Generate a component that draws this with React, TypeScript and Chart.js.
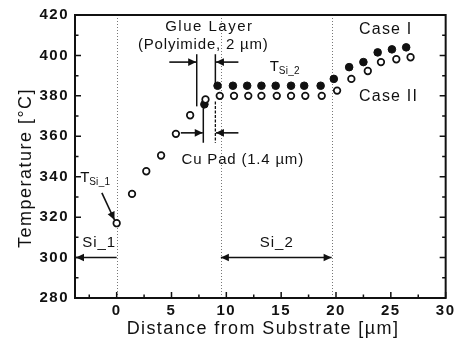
import React, { useEffect, useRef } from "react";
import { Chart, registerables } from "chart.js";

Chart.register(...registerables);

// ---- data ----
const caseIIX = [0, 1.4, 2.7, 4.05, 5.4, 6.7, 8.1, 9.4, 10.7, 12.0, 13.2, 14.6, 15.9, 17.2, 18.7, 20.1, 21.4, 22.9, 24.1, 25.5, 26.8];
const caseIIY = [317, 331.5, 342.7, 350.5, 361.2, 370.4, 378.2, 380, 380, 380, 380, 380, 380, 380, 380, 382.6, 388.4, 392.3, 396.7, 398.1, 399.1];
const caseIX = [8.0, 9.2, 10.6, 11.9, 13.2, 14.5, 15.9, 17.1, 18.6, 19.8, 21.2, 22.5, 23.8, 25.1, 26.4];
const caseIY = [375.8, 385, 385, 385, 385, 385, 385, 385, 385, 388.4, 394.2, 396.7, 401.5, 403, 404];

const xTickValues = [0, 5, 10, 15, 20, 25, 30];
const yTickValues = [280, 300, 320, 340, 360, 380, 400, 420];
const xMinorValues = [-2.5, 2.5, 7.5, 12.5, 17.5, 22.5, 27.5];
const yMinorValues = [290, 310, 330, 350, 370, 390, 410];
const regionBoundaries = [0, 9.5, 19.6];

const X_MIN = -3.8;
const X_MAX = 30;
const Y_MIN = 280;
const Y_MAX = 420;

const FONT = '"Liberation Sans", Arial, Helvetica, sans-serif';

function drawText(
  ctx: CanvasRenderingContext2D,
  str: string,
  x: number,
  y: number,
  size: number,
  align: CanvasTextAlign = "left",
  spacing = 1,
  weight = "normal"
) {
  ctx.save();
  ctx.font = `${weight} ${size}px ${FONT}`;
  (ctx as any).letterSpacing = `${spacing}px`;
  ctx.fillStyle = "#111";
  ctx.textAlign = align;
  ctx.textBaseline = "middle";
  ctx.fillText(str, x, y);
  ctx.restore();
}

function head(ctx: CanvasRenderingContext2D, fx: number, fy: number, tx: number, ty: number) {
  const a = Math.atan2(ty - fy, tx - fx);
  const L = 8;
  const W = 3.8;
  ctx.beginPath();
  ctx.moveTo(tx, ty);
  ctx.lineTo(tx - L * Math.cos(a) + W * Math.sin(a), ty - L * Math.sin(a) - W * Math.cos(a));
  ctx.lineTo(tx - L * Math.cos(a) - W * Math.sin(a), ty - L * Math.sin(a) + W * Math.cos(a));
  ctx.closePath();
  ctx.fill();
}

function arrow(
  ctx: CanvasRenderingContext2D,
  x1: number,
  y1: number,
  x2: number,
  y2: number,
  endHead = true,
  startHead = false
) {
  ctx.save();
  ctx.strokeStyle = "#111";
  ctx.fillStyle = "#111";
  ctx.lineWidth = 1.6;
  ctx.beginPath();
  ctx.moveTo(x1, y1);
  ctx.lineTo(x2, y2);
  ctx.stroke();
  if (endHead) head(ctx, x1, y1, x2, y2);
  if (startHead) head(ctx, x2, y2, x1, y1);
  ctx.restore();
}

function line(
  ctx: CanvasRenderingContext2D,
  x1: number,
  y1: number,
  x2: number,
  y2: number,
  width = 1.5,
  dash: number[] = []
) {
  ctx.save();
  ctx.strokeStyle = "#111";
  ctx.lineWidth = width;
  ctx.setLineDash(dash);
  ctx.beginPath();
  ctx.moveTo(x1, y1);
  ctx.lineTo(x2, y2);
  ctx.stroke();
  ctx.restore();
}

const decorPlugin = {
  id: "decor",
  beforeDraw(chart: any) {
    (chart.ctx as any).letterSpacing = "1.5px";
  },
  beforeDatasetsDraw(chart: any) {
    const { ctx, chartArea, scales } = chart;
    const xs = scales.x;
    ctx.save();
    ctx.strokeStyle = "#777";
    ctx.lineWidth = 1;
    ctx.setLineDash([1, 2]);
    regionBoundaries.forEach((v) => {
      const px = Math.round(xs.getPixelForValue(v)) + 0.5;
      ctx.beginPath();
      ctx.moveTo(px, chartArea.top);
      ctx.lineTo(px, chartArea.bottom);
      ctx.stroke();
    });
    ctx.restore();
  },
  afterDraw(chart: any) {
    const { ctx, chartArea, scales } = chart;
    const xs = scales.x;
    const ys = scales.y;
    const X = (v: number) => xs.getPixelForValue(v);
    const Y = (v: number) => ys.getPixelForValue(v);
    const { left, right, top, bottom } = chartArea;

    // frame
    ctx.save();
    ctx.strokeStyle = "#111";
    ctx.lineWidth = 2;
    ctx.setLineDash([]);
    ctx.strokeRect(left, top, right - left, bottom - top);

    // inward ticks
    ctx.lineWidth = 1.5;
    const majorLen = 6;
    const minorLen = 3.5;
    ctx.beginPath();
    xTickValues.forEach((v) => {
      const px = X(v);
      ctx.moveTo(px, bottom);
      ctx.lineTo(px, bottom - majorLen);
    });
    xMinorValues.forEach((v) => {
      const px = X(v);
      ctx.moveTo(px, bottom);
      ctx.lineTo(px, bottom - minorLen);
    });
    yTickValues.forEach((v) => {
      const py = Y(v);
      ctx.moveTo(left, py);
      ctx.lineTo(left + majorLen, py);
      ctx.moveTo(right, py);
      ctx.lineTo(right - majorLen, py);
    });
    yMinorValues.forEach((v) => {
      const py = Y(v);
      ctx.moveTo(left, py);
      ctx.lineTo(left + minorLen, py);
      ctx.moveTo(right, py);
      ctx.lineTo(right - minorLen, py);
    });
    ctx.stroke();
    ctx.restore();

    // axis titles
    ctx.save();
    ctx.translate(26, 168);
    ctx.rotate(-Math.PI / 2);
    drawText(ctx, "Temperature [°C]", 0, 0, 18, "center", 1.5);
    ctx.restore();
    drawText(ctx, "Distance from Substrate [µm]", 263, 329, 18, "center", 1.4);

    // Glue layer annotation
    drawText(ctx, "Glue Layer", X(8.45), Y(414.2), 15, "center", 1.5);
    drawText(ctx, "(Polyimide, 2 µm)", X(7.9), Y(405.4), 15, "center", 0.8);
    line(ctx, X(7.3), Y(400.6), X(7.3), Y(374.8), 1.5);
    line(ctx, X(9.0), Y(400.6), X(9.0), Y(385), 1.5);
    arrow(ctx, X(4.8), Y(396.7), X(7.25), Y(396.7));
    arrow(ctx, X(11.1), Y(396.7), X(9.05), Y(396.7));

    // Cu pad annotation
    line(ctx, X(7.9), Y(374.8), X(7.9), Y(356.8), 1.5);
    line(ctx, X(9.0), Y(377.2), X(9.0), Y(356.8), 1.3, [3, 1.5]);
    arrow(ctx, X(5.85), Y(361.7), X(7.85), Y(361.7));
    arrow(ctx, X(11.1), Y(361.7), X(9.05), Y(361.7));
    drawText(ctx, "Cu Pad (1.4 µm)", X(11.5), Y(348.5), 15, "center", 0.8);

    // T_Si_2
    drawText(ctx, "T", X(13.96), Y(394.2), 15, "left", 0);
    drawText(ctx, "Si_2", X(13.96) + 9, Y(394.2) + 4, 10, "left", 0.3);

    // T_Si_1
    drawText(ctx, "T", X(-3.33), Y(339.3), 15, "left", 0);
    drawText(ctx, "Si_1", X(-3.33) + 9, Y(339.3) + 4, 10, "left", 0.3);
    arrow(ctx, X(-1.35), Y(332), X(-0.2), Y(318.6));

    // Case labels
    drawText(ctx, "Case I", X(22.1), Y(412.7), 16, "left", 1.2);
    drawText(ctx, "Case II", X(22.1), Y(379.6), 16, "left", 1.2);

    // Si_1 / Si_2 regions
    drawText(ctx, "Si_1", X(-3.15), Y(307.2), 15, "left", 1);
    arrow(ctx, X(0), Y(300), X(X_MIN) + 1, Y(300));
    drawText(ctx, "Si_2", X(14.6), Y(307.2), 15, "center", 1);
    arrow(ctx, X(9.5), Y(300), X(19.6), Y(300), true, true);
  },
};

export default function App() {
  const canvasRef = useRef<HTMLCanvasElement | null>(null);

  useEffect(() => {
    if (!canvasRef.current) return;
    const chart = new Chart(canvasRef.current, {
      type: "scatter",
      data: {
        datasets: [
          {
            label: "Case II",
            data: caseIIX.map((x, i) => ({ x, y: caseIIY[i] })),
            pointStyle: "circle",
            pointRadius: 3.3,
            pointBorderWidth: 1.7,
            borderColor: "#111",
            backgroundColor: "#fff",
            showLine: false,
          },
          {
            label: "Case I",
            data: caseIX.map((x, i) => ({ x, y: caseIY[i] })),
            pointStyle: "circle",
            pointRadius: 3.8,
            pointBorderWidth: 1,
            borderColor: "#111",
            backgroundColor: "#111",
            showLine: false,
          },
        ],
      },
      options: {
        responsive: false,
        animation: false,
        devicePixelRatio: 1,
        layout: { padding: { top: 10, right: 8, left: 0, bottom: 0 } },
        plugins: {
          legend: { display: false },
          tooltip: { enabled: false },
        },
        scales: {
          x: {
            type: "linear",
            min: X_MIN,
            max: X_MAX,
            grid: { display: false, drawTicks: false },
            border: { display: false },
            afterBuildTicks: (scale: any) => {
              scale.ticks = xTickValues.map((v) => ({ value: v }));
            },
            afterFit: (scale: any) => {
              scale.height = 53;
            },
            ticks: {
              padding: 4,
              color: "#111",
              font: { family: FONT, size: 15, weight: "bold" },
              callback: (v: any) => String(v),
            },
          },
          y: {
            type: "linear",
            min: Y_MIN,
            max: Y_MAX,
            grid: { display: false, drawTicks: false },
            border: { display: false },
            afterBuildTicks: (scale: any) => {
              scale.ticks = yTickValues.map((v) => ({ value: v }));
            },
            afterFit: (scale: any) => {
              scale.width = 75;
            },
            ticks: {
              padding: 6,
              color: "#111",
              font: { family: FONT, size: 15, weight: "bold" },
              callback: (v: any) => String(v),
            },
          },
        },
      },
      plugins: [decorPlugin],
    } as any);
    return () => chart.destroy();
  }, []);

  return (
    <div style={{ position: "absolute", left: 0, top: 0, width: 458, height: 351, background: "#fff" }}>
      <canvas ref={canvasRef} width={458} height={351} />
    </div>
  );
}
